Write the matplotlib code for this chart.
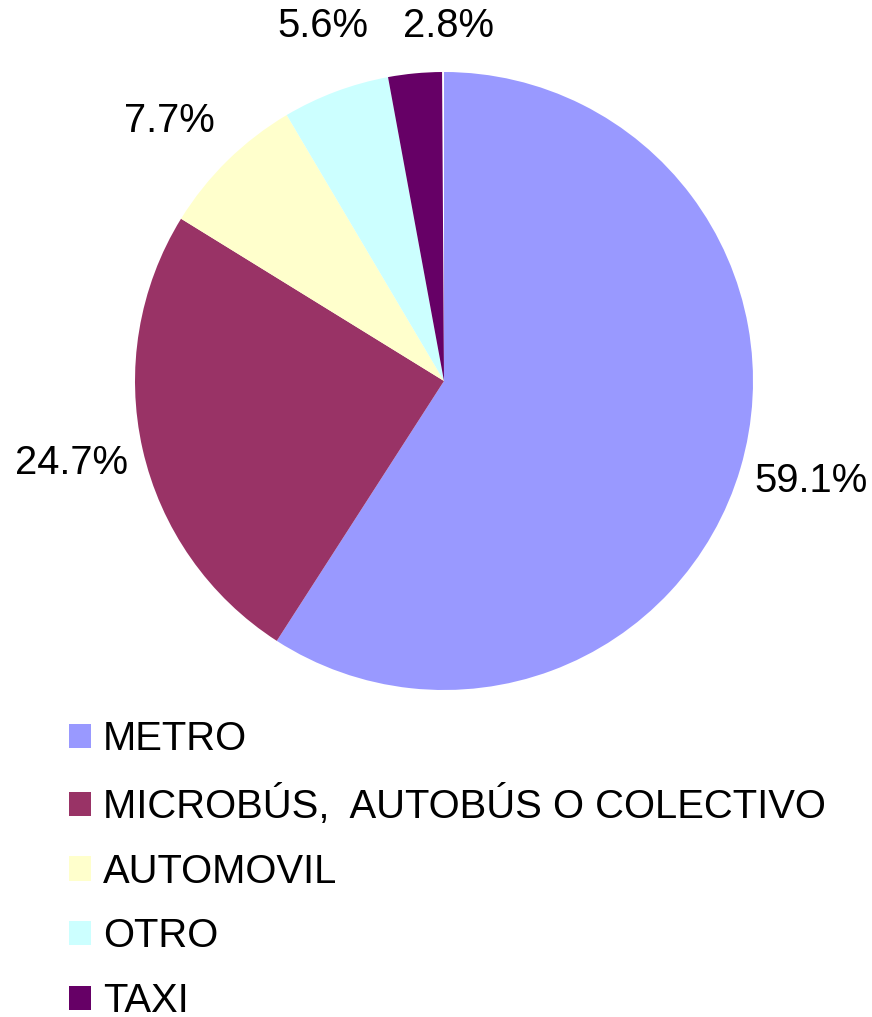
import matplotlib.pyplot as plt
from matplotlib.patches import Patch

# === Data ===
CATEGORIES = ['METRO', 'MICROBÚS,  AUTOBÚS O COLECTIVO', 'AUTOMOVIL', 'OTRO', 'TAXI']
PERCENTS = [59.1, 24.7, 7.7, 5.6, 2.8]
COLORS = ['#9999FF', '#993366', '#FFFFCC', '#CCFFFF', '#660066']
LABELS = ['59.1%', '24.7%', '7.7%', '5.6%', '2.8%']

# label positions (pie radius = 1), Excel nudges them a bit
LABEL_POS = [(1.188, -0.324), (-1.207, -0.265), (-0.89, 0.841), (-0.392, 1.149), (0.013, 1.149)]

plt.rcParams['font.family'] = ['Liberation Sans', 'DejaVu Sans']
FS = 28.8

W, H = 872, 1017
fig = plt.figure(figsize=(W / 100, H / 100), dpi=100)

cx, cy, r = 444, 381, 309
ax = fig.add_axes([(cx - r) / W, (H - cy - r) / H, 2 * r / W, 2 * r / H])

# fractions left un-normalised: the missing 0.1% shows as a thin gap at the top
fracs = [p / 100 for p in PERCENTS]
wedges, _ = ax.pie(fracs, colors=COLORS, startangle=90, counterclock=False,
                   normalize=False, radius=1,
                   wedgeprops={'linewidth': 0})
ax.set_xlim(-1, 1)
ax.set_ylim(-1, 1)
ax.set_aspect('equal')
ax.axis('off')

for txt, (x, y) in zip(LABELS, LABEL_POS):
    ax.text(x, y, txt, ha='center', va='center', fontsize=FS, clip_on=False)

handles = [Patch(facecolor=c, edgecolor='none') for c in COLORS]
fig.legend(handles, CATEGORIES, loc='upper left',
           bbox_to_anchor=(69 / W, 1 - 720 / H),
           frameon=False, fontsize=FS, borderpad=0, borderaxespad=0,
           handlelength=0.55, handleheight=0.55, handletextpad=0.3,
           labelspacing=0.67)

fig.savefig('out.png', dpi=100)
plt.close(fig)
